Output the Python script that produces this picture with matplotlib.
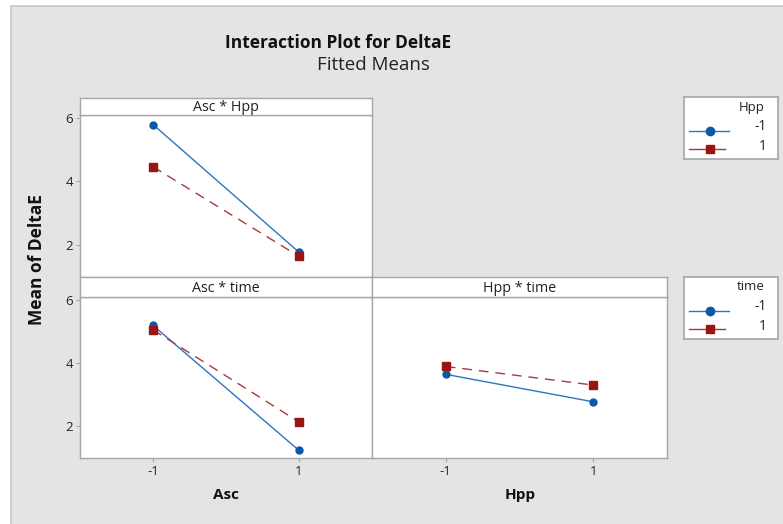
import matplotlib
matplotlib.use("Agg")
import matplotlib.pyplot as plt
from matplotlib.patches import Rectangle
from matplotlib.lines import Line2D

plt.rcParams['font.family'] = ['Open Sans', 'DejaVu Sans']

# ---- data ----
levels = [-1, 1]
legend_levels = ["-1", "1"]
# Asc * Hpp (x = Asc, series = Hpp)
asc_hpp_m1 = [5.78, 1.76]
asc_hpp_p1 = [4.45, 1.63]
# Asc * time (x = Asc, series = time)
asc_time_m1 = [5.18, 1.22]
asc_time_p1 = [5.04, 2.12]
# Hpp * time (x = Hpp, series = time)
hpp_time_m1 = [3.63, 2.76]
hpp_time_p1 = [3.88, 3.29]
y_ticks = [2, 4, 6]
x_ticks = [-1, 1]

W, H = 783, 524
fig = plt.figure(figsize=(W / 100, H / 100), dpi=100)
fig.patch.set_facecolor('white')

BLUE = '#0b58a8'
BLUE_L = '#2f74c0'
RED = '#9a1414'
RED_L = '#a83a3a'
FRAME = '#a6a6a6'
BG = '#e4e4e4'
TXT = '#222222'

# background panel
fig.patches.append(Rectangle((11 / W, -0.01), 1, 1.01 - 6 / H, transform=fig.transFigure,
                             facecolor=BG, edgecolor='#c6c6c6', lw=1.2, zorder=-10))


def px_axes(x0, y0, x1, y1, **kw):
    return fig.add_axes([x0 / W, 1 - y1 / H, (x1 - x0) / W, (y1 - y0) / H], **kw)


def style(ax, ylab=True, xlab=True):
    ax.set_facecolor('white')
    for s in ax.spines.values():
        s.set_color(FRAME)
        s.set_linewidth(1.0)
    ax.set_xlim(-2, 2)
    ax.set_ylim(0.98, 6.08)
    ax.set_xticks(x_ticks)
    ax.set_yticks(y_ticks)
    ax.tick_params(axis='both', direction='out', length=3, width=0.8, color=FRAME,
                   labelsize=9.5, labelcolor=TXT, pad=2)
    if not ylab:
        ax.tick_params(axis='y', left=False, labelleft=False)
    if not xlab:
        ax.tick_params(axis='x', bottom=False, labelbottom=False)
    else:
        ax.set_xticklabels([str(v) for v in x_ticks])


def strip(x0, y0, x1, y1, label):
    s = px_axes(x0, y0, x1, y1)
    s.set_xticks([]); s.set_yticks([])
    s.set_facecolor('white')
    for sp in s.spines.values():
        sp.set_color(FRAME)
        sp.set_linewidth(1.0)
    s.text(0.5, 0.45, label, ha='center', va='center', fontsize=10.3, color=TXT,
           transform=s.transAxes)


def draw(ax, a, b):
    ax.plot(levels, a, color=BLUE_L, lw=1.0, marker='o', ms=5, mfc=BLUE, mec=BLUE, zorder=3)
    ax.plot(levels, b, color=RED_L, lw=1.0, ls=(0, (7, 5)), marker='s', ms=5.5,
            mfc=RED, mec=RED, zorder=3)


# top-left
ax1 = px_axes(80, 115, 372, 277)
style(ax1, xlab=False)
draw(ax1, asc_hpp_m1, asc_hpp_p1)
strip(80, 97.5, 372, 115, 'Asc * Hpp')

# bottom-left
ax2 = px_axes(80, 297, 372, 458)
style(ax2)
draw(ax2, asc_time_m1, asc_time_p1)
strip(80, 277, 372, 297, 'Asc * time')

# bottom-right
ax3 = px_axes(372, 297, 667, 458)
style(ax3, ylab=False)
draw(ax3, hpp_time_m1, hpp_time_p1)
strip(372, 277, 667, 297, 'Hpp * time')


def legend_box(y0, title):
    lg = px_axes(684, y0, 778, y0 + 62)
    lg.set_xlim(0, 94)
    lg.set_ylim(62, 0)
    lg.set_xticks([]); lg.set_yticks([])
    lg.set_facecolor('white')
    for sp in lg.spines.values():
        sp.set_color(FRAME)
        sp.set_linewidth(1.2)
    lg.text(81, 10, title, ha='right', va='center', fontsize=9.5, color=TXT)
    lg.add_line(Line2D([5, 45], [33.5, 33.5], color=BLUE_L, lw=1.0))
    lg.add_line(Line2D([26], [33.5], color=BLUE, marker='o', ms=6, ls='none'))
    lg.add_line(Line2D([5, 41], [52, 52], color=RED_L, lw=1.0))
    lg.add_line(Line2D([26], [52], color=RED, marker='s', ms=6, ls='none'))
    lg.text(83, 30, legend_levels[0], ha='right', va='center', fontsize=10, color=TXT)
    lg.text(83, 49, legend_levels[1], ha='right', va='center', fontsize=10, color=TXT)


legend_box(97, 'Hpp')
legend_box(277, 'time')

# titles and labels
fig.text(338 / W, 1 - 43 / H, 'Interaction Plot for DeltaE', ha='center', va='center',
         fontsize=12.5, fontweight='bold', color='#111111')
fig.text(373 / W, 1 - 65 / H, 'Fitted Means', ha='center', va='center',
         fontsize=13.5, color='#222222')
fig.text(37 / W, 1 - 260 / H, 'Mean of DeltaE', ha='center', va='center', rotation=90,
         fontsize=12.5, fontweight='bold', color='#111111')
fig.text(226 / W, 1 - 495 / H, 'Asc', ha='center', va='center',
         fontsize=11, fontweight='bold', color='#111111')
fig.text(520 / W, 1 - 495 / H, 'Hpp', ha='center', va='center',
         fontsize=11, fontweight='bold', color='#111111')

fig.savefig('out.png', dpi=100, facecolor=fig.get_facecolor())
